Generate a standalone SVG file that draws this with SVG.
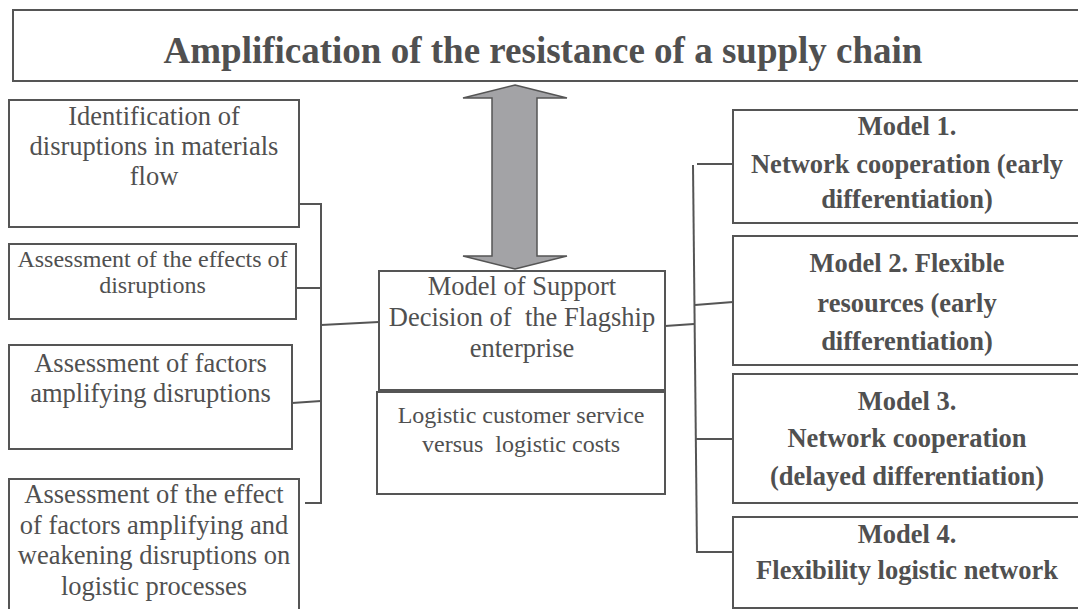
<svg xmlns="http://www.w3.org/2000/svg" width="1078" height="609" viewBox="0 0 1078 609">
<style>
.box{fill:#ffffff;stroke:#555555;stroke-width:2}
.t{font-family:"Liberation Serif","Times New Roman",serif;fill:#505050;text-anchor:middle}
.r{font-size:26.5px}
.s{font-size:24px}
.b{font-size:26.5px;font-weight:bold}
.title{font-size:37px;font-weight:bold}
.c{fill:none;stroke:#555555;stroke-width:2}
</style>
<rect width="1078" height="609" fill="#ffffff"/>
<g id="title">
<rect class="box" x="13" y="10" width="1080" height="71"/>
<text class="t title" x="543" y="63">Amplification of the resistance of a supply chain</text>
</g>
<g id="connectors">
<polyline class="c" points="299,204 321,204 321,503 305,503"/>
<line class="c" x1="296" y1="288" x2="321" y2="288"/>
<line class="c" x1="292" y1="403" x2="321" y2="401"/>
<line class="c" x1="321" y1="325" x2="379" y2="322"/>
<line class="c" x1="665" y1="326" x2="694" y2="324"/>
<line class="c" x1="693" y1="165" x2="697" y2="553"/>
<line class="c" x1="697" y1="164" x2="733" y2="164"/>
<line class="c" x1="695" y1="305" x2="733" y2="302"/>
<line class="c" x1="696" y1="439" x2="733" y2="439"/>
<line class="c" x1="697" y1="552" x2="733" y2="552"/>
</g>
<g id="arrow">
<polygon points="515,85 567,98 537,98 537,256 567,256 515,269 463,256 492,256 492,98 463,98" fill="#a3a3a6" stroke="#555555" stroke-width="1.5"/>
</g>
<g id="n1">
<rect class="box" x="9" y="100" width="290" height="127"/>
<text class="t r"><tspan x="154" y="125">Identification of</tspan><tspan x="154" y="155">disruptions in materials</tspan><tspan x="154" y="185">flow</tspan></text>
</g>
<g id="n2">
<rect class="box" x="9" y="244" width="287" height="75"/>
<text class="t s"><tspan x="152.5" y="267">Assessment of the effects of</tspan><tspan x="152.5" y="293">disruptions</tspan></text>
</g>
<g id="n3">
<rect class="box" x="9" y="345" width="283" height="104"/>
<text class="t r"><tspan x="150.5" y="372">Assessment of factors</tspan><tspan x="150.5" y="402">amplifying disruptions</tspan></text>
</g>
<g id="n4">
<rect class="box" x="9" y="479" width="290" height="140"/>
<text class="t r"><tspan x="154" y="503">Assessment of the effect</tspan><tspan x="154" y="533.5">of factors amplifying and</tspan><tspan x="154" y="564">weakening disruptions on</tspan><tspan x="154" y="594.5">logistic processes</tspan></text>
</g>
<g id="center">
<rect class="box" x="379" y="271" width="286" height="119"/>
<text class="t r"><tspan x="522" y="295">Model of Support</tspan><tspan x="522" y="326" xml:space="preserve">Decision of  the Flagship</tspan><tspan x="522" y="357">enterprise</tspan></text>
</g>
<g id="center-sub">
<rect class="box" x="377" y="392" width="288" height="102"/>
<text class="t s"><tspan x="521" y="423">Logistic customer service</tspan><tspan x="521" y="452" xml:space="preserve">versus  logistic costs</tspan></text>
</g>
<g id="m1">
<rect class="box" x="733" y="110" width="360" height="113"/>
<text class="t b"><tspan x="907" y="135">Model 1.</tspan><tspan x="907" y="173">Network cooperation (early</tspan><tspan x="907" y="208">differentiation)</tspan></text>
</g>
<g id="m2">
<rect class="box" x="733" y="236" width="360" height="129"/>
<text class="t b"><tspan x="907" y="272">Model 2. Flexible</tspan><tspan x="907" y="312">resources (early</tspan><tspan x="907" y="350">differentiation)</tspan></text>
</g>
<g id="m3">
<rect class="box" x="733" y="374" width="360" height="129"/>
<text class="t b"><tspan x="907" y="410">Model 3.</tspan><tspan x="907" y="447">Network cooperation</tspan><tspan x="907" y="485">(delayed differentiation)</tspan></text>
</g>
<g id="m4">
<rect class="box" x="733" y="517" width="360" height="91"/>
<text class="t b"><tspan x="907" y="543">Model 4.</tspan><tspan x="907" y="579">Flexibility logistic network</tspan></text>
</g>
</svg>
